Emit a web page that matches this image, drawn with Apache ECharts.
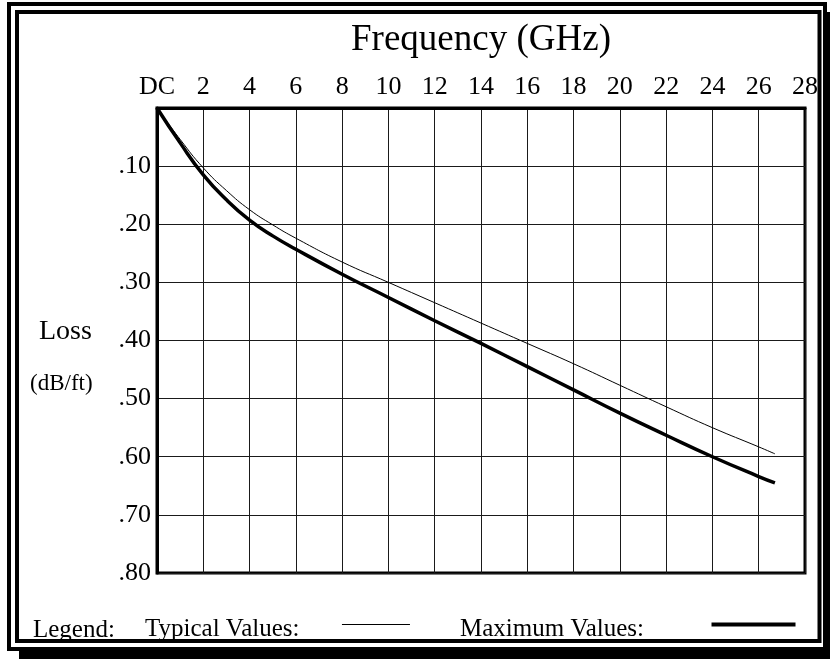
<!DOCTYPE html>
<html>
<head>
<meta charset="utf-8">
<script src="https://cdn.jsdelivr.net/npm/echarts@6/dist/echarts.min.js"></script>
<style>
  html, body { margin: 0; padding: 0; background: #fff; }
  #chart { width: 830px; height: 659px; }
</style>
</head>
<body>
<div id="chart"></div>
<script>
// frequency points (GHz)
const freq = [0, 1, 2, 3, 4, 5, 6, 8, 10, 12, 14, 16, 18, 20, 22, 24, 26, 26.7];
// typical loss, thin line (dB/ft)
const lossTypical = [0, 0.054, 0.103, 0.142, 0.175, 0.201, 0.224, 0.265, 0.300, 0.335, 0.370, 0.405, 0.440, 0.477, 0.514, 0.550, 0.583, 0.595];
// maximum loss, thick line (dB/ft)
const lossMax = [0, 0.060, 0.115, 0.158, 0.193, 0.220, 0.243, 0.286, 0.326, 0.366, 0.405, 0.445, 0.485, 0.525, 0.563, 0.600, 0.634, 0.645];

const xTicks = { 0: 'DC' };
const serif = '"Liberation Serif", "Times New Roman", serif';
const pad = (n) => '\u00a0'.repeat(n);

const toPairs = (ys) => freq.map((f, i) => [f, ys[i]]);

const chart = echarts.init(document.getElementById('chart'), null, { renderer: 'canvas' });

const legendText = {
  fontFamily: serif,
  fontSize: 25,
  color: '#000',
  rich: { t: { fontFamily: serif, fontSize: 25, color: '#000', padding: [10, 0, 0, 0] } },
};

const option = {
  backgroundColor: '#fff',
  animation: false,
  grid: {
    left: 157,
    top: 108,
    right: 25,
    bottom: 86,
    show: true,
    borderColor: '#000',
    borderWidth: 3,
  },
  xAxis: {
    type: 'value',
    position: 'top',
    min: 0,
    max: 28,
    interval: 2,
    name: 'Frequency (GHz)',
    nameLocation: 'middle',
    nameGap: 49,
    nameTextStyle: { fontFamily: serif, fontSize: 37, color: '#000' },
    axisLine: { show: true, lineStyle: { color: '#000', width: 3 } },
    axisTick: { show: false },
    axisLabel: {
      color: '#000',
      fontFamily: serif,
      fontSize: 26,
      margin: 8,
      formatter: (v) => xTicks[v] || String(v),
    },
    splitLine: { show: true, lineStyle: { color: '#1a1a1a', width: 1 } },
  },
  yAxis: {
    type: 'value',
    inverse: true,
    min: 0,
    max: 0.8,
    interval: 0.1,
    axisLine: { show: true, lineStyle: { color: '#000', width: 3 } },
    axisTick: { show: false },
    axisLabel: {
      color: '#000',
      fontFamily: serif,
      fontSize: 26,
      margin: 6,
      formatter: (v) => (v === 0 ? '' : '.' + Math.round(v * 100)),
    },
    splitLine: { show: true, lineStyle: { color: '#1a1a1a', width: 1 } },
  },
  legend: [
    {
      data: [{ name: 'Typical Values:', icon: 'rect' }],
      left: 140,
      top: 612,
      align: 'right',
      itemWidth: 68,
      itemHeight: 1,
      selectedMode: false,
      formatter: (n) => '{t|' + n + pad(6) + '}',
      textStyle: legendText,
    },
    {
      data: [{ name: 'Maximum Values:', icon: 'rect' }],
      left: 455,
      top: 612,
      align: 'right',
      itemWidth: 84,
      itemHeight: 4,
      selectedMode: false,
      formatter: (n) => '{t|' + n + pad(10) + '}',
      textStyle: legendText,
    },
  ],
  graphic: [
    // double frame with drop shadow
    { type: 'rect', shape: { x: 19, y: 651, width: 811, height: 8 }, style: { fill: '#000' } },
    { type: 'rect', shape: { x: 827, y: 12, width: 3, height: 647 }, style: { fill: '#000' } },
    { type: 'rect', shape: { x: 9, y: 4, width: 816, height: 645 }, style: { fill: null, stroke: '#000', lineWidth: 4 } },
    { type: 'rect', shape: { x: 17, y: 12, width: 802.5, height: 629 }, style: { fill: null, stroke: '#000', lineWidth: 4 } },
    { type: 'text', left: 39, top: 318, style: { text: 'Loss', font: '28px ' + serif, fill: '#000' } },
    { type: 'text', left: 30, top: 372, style: { text: '(dB/ft)', font: '23px ' + serif, fill: '#000' } },
    { type: 'text', left: 33, top: 618, style: { text: 'Legend:', font: '25px ' + serif, fill: '#000' } },
  ],
  series: [
    {
      name: 'Typical Values:',
      type: 'line',
      data: toPairs(lossTypical),
      smooth: 0.5,
      showSymbol: false,
      color: '#000',
      lineStyle: { color: '#000', width: 1 },
    },
    {
      name: 'Maximum Values:',
      type: 'line',
      data: toPairs(lossMax),
      smooth: 0.5,
      showSymbol: false,
      color: '#000',
      lineStyle: { color: '#000', width: 3.5 },
    },
  ],
};

chart.setOption(option);
</script>
</body>
</html>
